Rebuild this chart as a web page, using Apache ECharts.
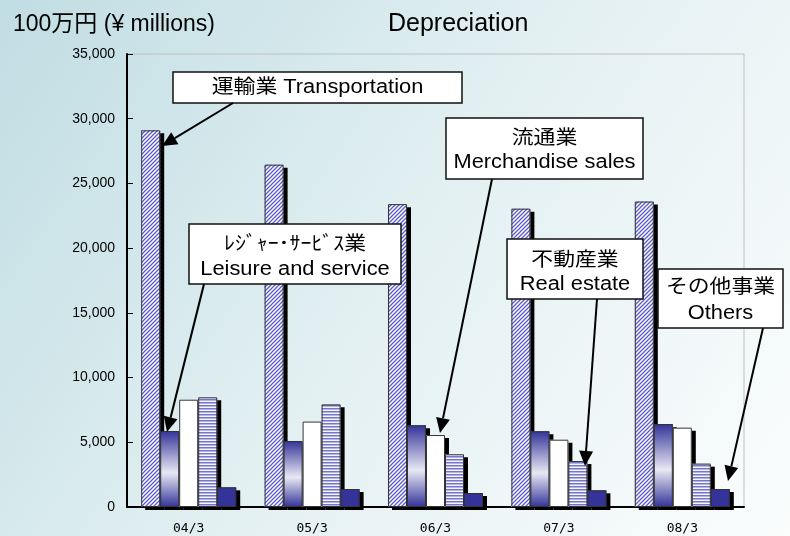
<!DOCTYPE html>
<html>
<head>
<meta charset="utf-8">
<script src="https://cdn.jsdelivr.net/npm/echarts@6/dist/echarts.min.js"></script>
<style>
  html, body { margin: 0; padding: 0; }
  #chart { width: 790px; height: 536px; }
</style>
</head>
<body>
<div id="chart"></div>
<script>
// data (100万円)
var years = ['04/3', '05/3', '06/3', '07/3', '08/3'];
var transportation = [29100, 26450, 23400, 23050, 23600];
var leisure = [5870, 5100, 6310, 5850, 6410];
var merchandise = [8290, 6600, 5560, 5200, 6130];
var realEstate = [8470, 7930, 4070, 3550, 3350];
var others = [1520, 1390, 1080, 1290, 1390];
var yTicks = { min: 0, max: 35000, interval: 5000 };

var jp = '"Liberation Sans", Arial, "Noto Sans CJK JP", sans-serif';

// diagonal hatch tile
function hatchTile() {
    var c = document.createElement('canvas');
    c.width = 4; c.height = 4;
    var g = c.getContext('2d');
    g.fillStyle = '#ffffff';
    g.fillRect(0, 0, 4, 4);
    g.strokeStyle = '#5a5ac8';
    g.lineWidth = 1.3;
    g.beginPath();
    g.moveTo(-1, 5); g.lineTo(5, -1);
    g.moveTo(-1, 1); g.lineTo(1, -1);
    g.moveTo(3, 5); g.lineTo(5, 3);
    g.stroke();
    return c;
}
// horizontal stripe tile
function stripeTile() {
    var c = document.createElement('canvas');
    c.width = 4; c.height = 3;
    var g = c.getContext('2d');
    g.fillStyle = '#f4f4fc';
    g.fillRect(0, 0, 4, 3);
    g.fillStyle = '#7676c8';
    g.fillRect(0, 0, 4, 1.5);
    return c;
}

var groups = [
    { name: '運輸業', data: transportation, fill: { image: hatchTile(), repeat: 'repeat' } },
    { name: 'レジャー・サービス業', data: leisure, fill: {
          type: 'linear', x: 0, y: 0, x2: 0, y2: 1,
          colorStops: [
              { offset: 0, color: '#333399' },
              { offset: 0.55, color: '#e8e8f4' },
              { offset: 1, color: '#333399' }
          ] } },
    { name: '流通業', data: merchandise, fill: '#ffffff' },
    { name: '不動産業', data: realEstate, fill: { image: stripeTile(), repeat: 'repeat' } },
    { name: 'その他事業', data: others, fill: '#333399' }
];

// filled bars with a hard black drop shadow (axis 0)
var series = groups.map(function (g) {
    return {
        type: 'bar', name: g.name, data: g.data, xAxisIndex: 0,
        barGap: '0%', barCategoryGap: '23%',
        itemStyle: {
            color: g.fill, borderWidth: 0,
            shadowColor: '#000', shadowBlur: 0, shadowOffsetX: 4, shadowOffsetY: 3
        }
    };
});
// thin outlines on top, same layout on a hidden twin axis
groups.forEach(function (g) {
    series.push({
        type: 'bar', name: g.name, data: g.data, xAxisIndex: 1,
        barGap: '0%', barCategoryGap: '23%', z: 3,
        itemStyle: { color: 'transparent', borderColor: '#333', borderWidth: 1 }
    });
});

// callout boxes
function callout(x, y, w, h, lines, lineY) {
    var els = [{
        type: 'rect',
        shape: { x: x, y: y, width: w, height: h },
        style: { fill: '#fff', stroke: '#111', lineWidth: 1.5 },
        z: 100
    }];
    lines.forEach(function (t, i) {
        els.push({
            type: 'text',
            x: x + w / 2, y: lineY[i],
            scaleX: 1.12,
            style: { text: t, fill: '#000', font: '19.5px ' + jp,
                     align: 'center', verticalAlign: 'middle' },
            z: 101
        });
    });
    return els;
}
function arrow(x1, y1, x2, y2) {
    var dx = x2 - x1, dy = y2 - y1, len = Math.sqrt(dx * dx + dy * dy);
    var ux = dx / len, uy = dy / len, hl = 15, hw = 7;
    var bx = x2 - ux * hl, by = y2 - uy * hl;
    return [{
        type: 'line',
        shape: { x1: x1, y1: y1, x2: bx, y2: by },
        style: { stroke: '#000', lineWidth: 2 },
        z: 100
    }, {
        type: 'polygon',
        shape: { points: [[x2, y2], [bx - uy * hw, by + ux * hw], [bx + uy * hw, by - ux * hw]] },
        style: { fill: '#000' },
        z: 100
    }];
}

var graphics = [].concat(
    callout(173, 72, 289, 31, ['運輸業 Transportation'], [88]),
    arrow(233, 103, 162, 146),
    callout(189, 224, 212, 60, ['ﾚｼﾞｬｰ･ｻｰﾋﾞｽ業', 'Leisure and service'], [245, 270]),
    arrow(204, 284, 167, 432),
    callout(446, 118, 197, 61, ['流通業', 'Merchandise sales'], [139, 163]),
    arrow(492, 179, 440, 433),
    callout(507, 239, 136, 60, ['不動産業', 'Real estate'], [261, 285]),
    arrow(597, 299, 585, 466),
    callout(658, 269, 125, 59, ['その他事業', 'Others'], [288, 314]),
    arrow(763, 328, 728, 481)
);

var chart = echarts.init(document.getElementById('chart'));
chart.setOption({
    animation: false,
    backgroundColor: {
        type: 'linear', x: 0, y: 0, x2: 1, y2: 1,
        colorStops: [
            { offset: 0, color: '#c0dde3' },
            { offset: 0.5, color: '#e3f0f2' },
            { offset: 1, color: '#fbfdfd' }
        ]
    },
    title: [{
        text: 'Depreciation',
        left: 383, top: 7,
        textStyle: { fontFamily: jp, fontSize: 25, fontWeight: 'normal', color: '#000' }
    }, {
        text: '100万円 (¥ millions)',
        left: 8, top: 8,
        textStyle: { fontFamily: jp, fontSize: 23, fontWeight: 'normal', color: '#000' }
    }],
    grid: {
        left: 127, right: 46, top: 54, bottom: 29,
        show: true, borderColor: '#c0c0c0', borderWidth: 1,
        backgroundColor: 'transparent'
    },
    xAxis: [{
        type: 'category',
        data: years,
        axisLine: { lineStyle: { color: '#000', width: 2 } },
        axisTick: { inside: true, length: 6, lineStyle: { color: '#000' } },
        axisLabel: { margin: 15, color: '#000', fontFamily: '"DejaVu Sans Mono", monospace', fontSize: 13 }
    }, {
        type: 'category',
        data: years,
        show: false
    }],
    yAxis: {
        type: 'value',
        min: yTicks.min, max: yTicks.max, interval: yTicks.interval,
        splitLine: { show: false },
        axisLine: { show: true, lineStyle: { color: '#000', width: 2 } },
        axisTick: { show: true, inside: true, length: 6, lineStyle: { color: '#000' } },
        axisLabel: {
            margin: 12, color: '#000', fontSize: 14,
            fontFamily: '"Liberation Sans", sans-serif',
            formatter: function (v) { return v.toLocaleString('en-US'); }
        }
    },
    series: series,
    graphic: graphics
});
</script>
</body>
</html>
